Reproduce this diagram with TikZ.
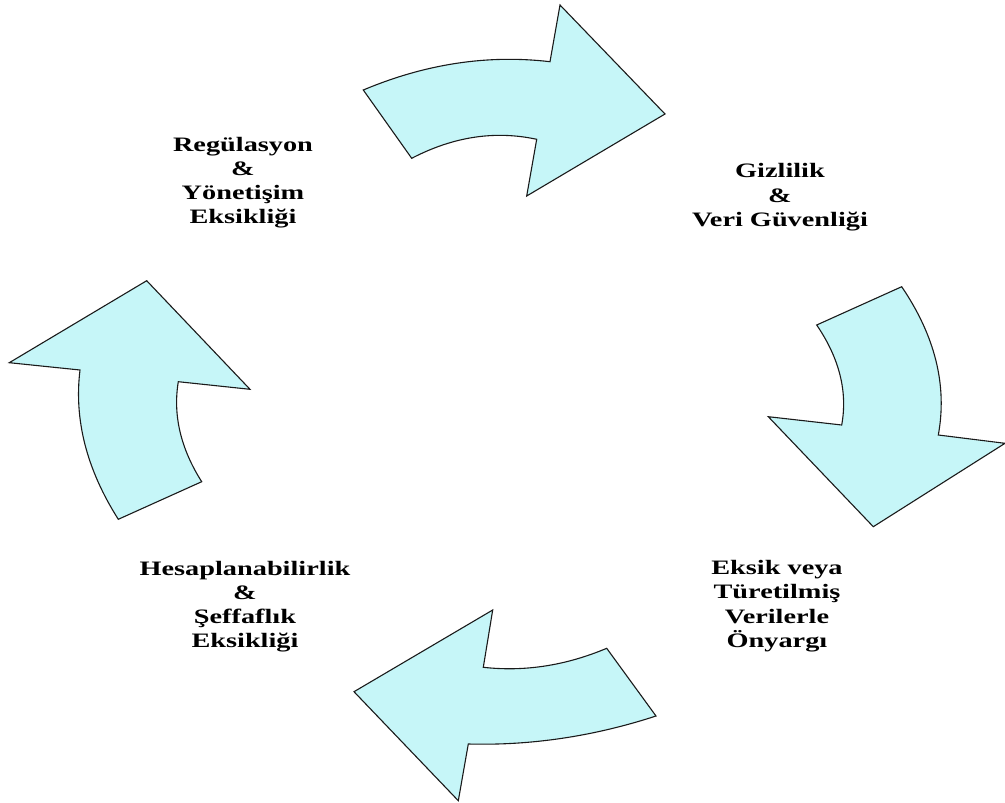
\documentclass[tikz,border=0pt]{standalone}
\usepackage{fontspec}
\newfontfamily\lblfont[FakeStretch=1.38]{Liberation Serif Bold}
\definecolor{arrowfill}{HTML}{C6F6F8}
\definecolor{arrowline}{HTML}{1A1A1A}
\begin{document}
\begin{tikzpicture}[x=1pt,y=-1pt,
  bentarrow/.style={fill=arrowfill,draw=arrowline,line width=1.1pt,line join=miter},
  lbl/.style={align=center,inner sep=0pt,font=\lblfont\fontsize{20.5}{24.3}\selectfont}]
\useasboundingbox (0,0) rectangle (1005,803);

% top arrow, pointing right
\draw[bentarrow] (363.3,90) .. controls (425.6,63.8) and (487.8,54.4) .. (550,61.7)
  -- (560,5) -- (665,114) -- (526.7,196) -- (536.7,139.3)
  .. controls (495,130.3) and (453.4,136.6) .. (411.7,158.3) -- cycle;

% right arrow, pointing down
\draw[bentarrow] (816.7,325) -- (901.7,286.7)
  .. controls (935.2,336.1) and (947.4,385.6) .. (938.3,435)
  -- (1005,443.3) -- (873.3,526.7) -- (768.3,416.7) -- (841.7,425)
  .. controls (847.8,391.7) and (839.4,358.3) .. (816.7,325) -- cycle;

% bottom arrow, pointing left
\draw[bentarrow] (606.7,648.3) -- (656,716)
  .. controls (593.5,736.4) and (530.9,745.7) .. (468.3,744)
  -- (458.3,800.7) -- (354,691.7) -- (492.7,610) -- (483.3,667.3)
  .. controls (524.4,671.9) and (565.6,665.6) .. (606.7,648.3) -- cycle;

% left arrow, pointing up
\draw[bentarrow] (118.3,519.3) -- (201.7,481.7)
  .. controls (180.6,448.4) and (172.8,415) .. (178.3,381.7)
  -- (250,389.3) -- (146.7,280.7) -- (9.3,362.7) -- (80,370)
  .. controls (73.9,419.8) and (86.7,469.5) .. (118.3,519.3) -- cycle;

% labels
\node[lbl] (reg) at (243,182.6) {Regülasyon\\\&\\Yönetişim\\Eksikliği};
\node[lbl] (giz) at (780,197.2) {Gizlilik\\\&\\Veri Güvenliği};
\node[lbl] (eks) at (777,606) {Eksik veya\\Türetilmiş\\Verilerle\\Önyargı};
\node[lbl] (hes) at (245,606.6) {Hesaplanabilirlik\\\&\\Şeffaflık\\Eksikliği};
\end{tikzpicture}
\end{document}
